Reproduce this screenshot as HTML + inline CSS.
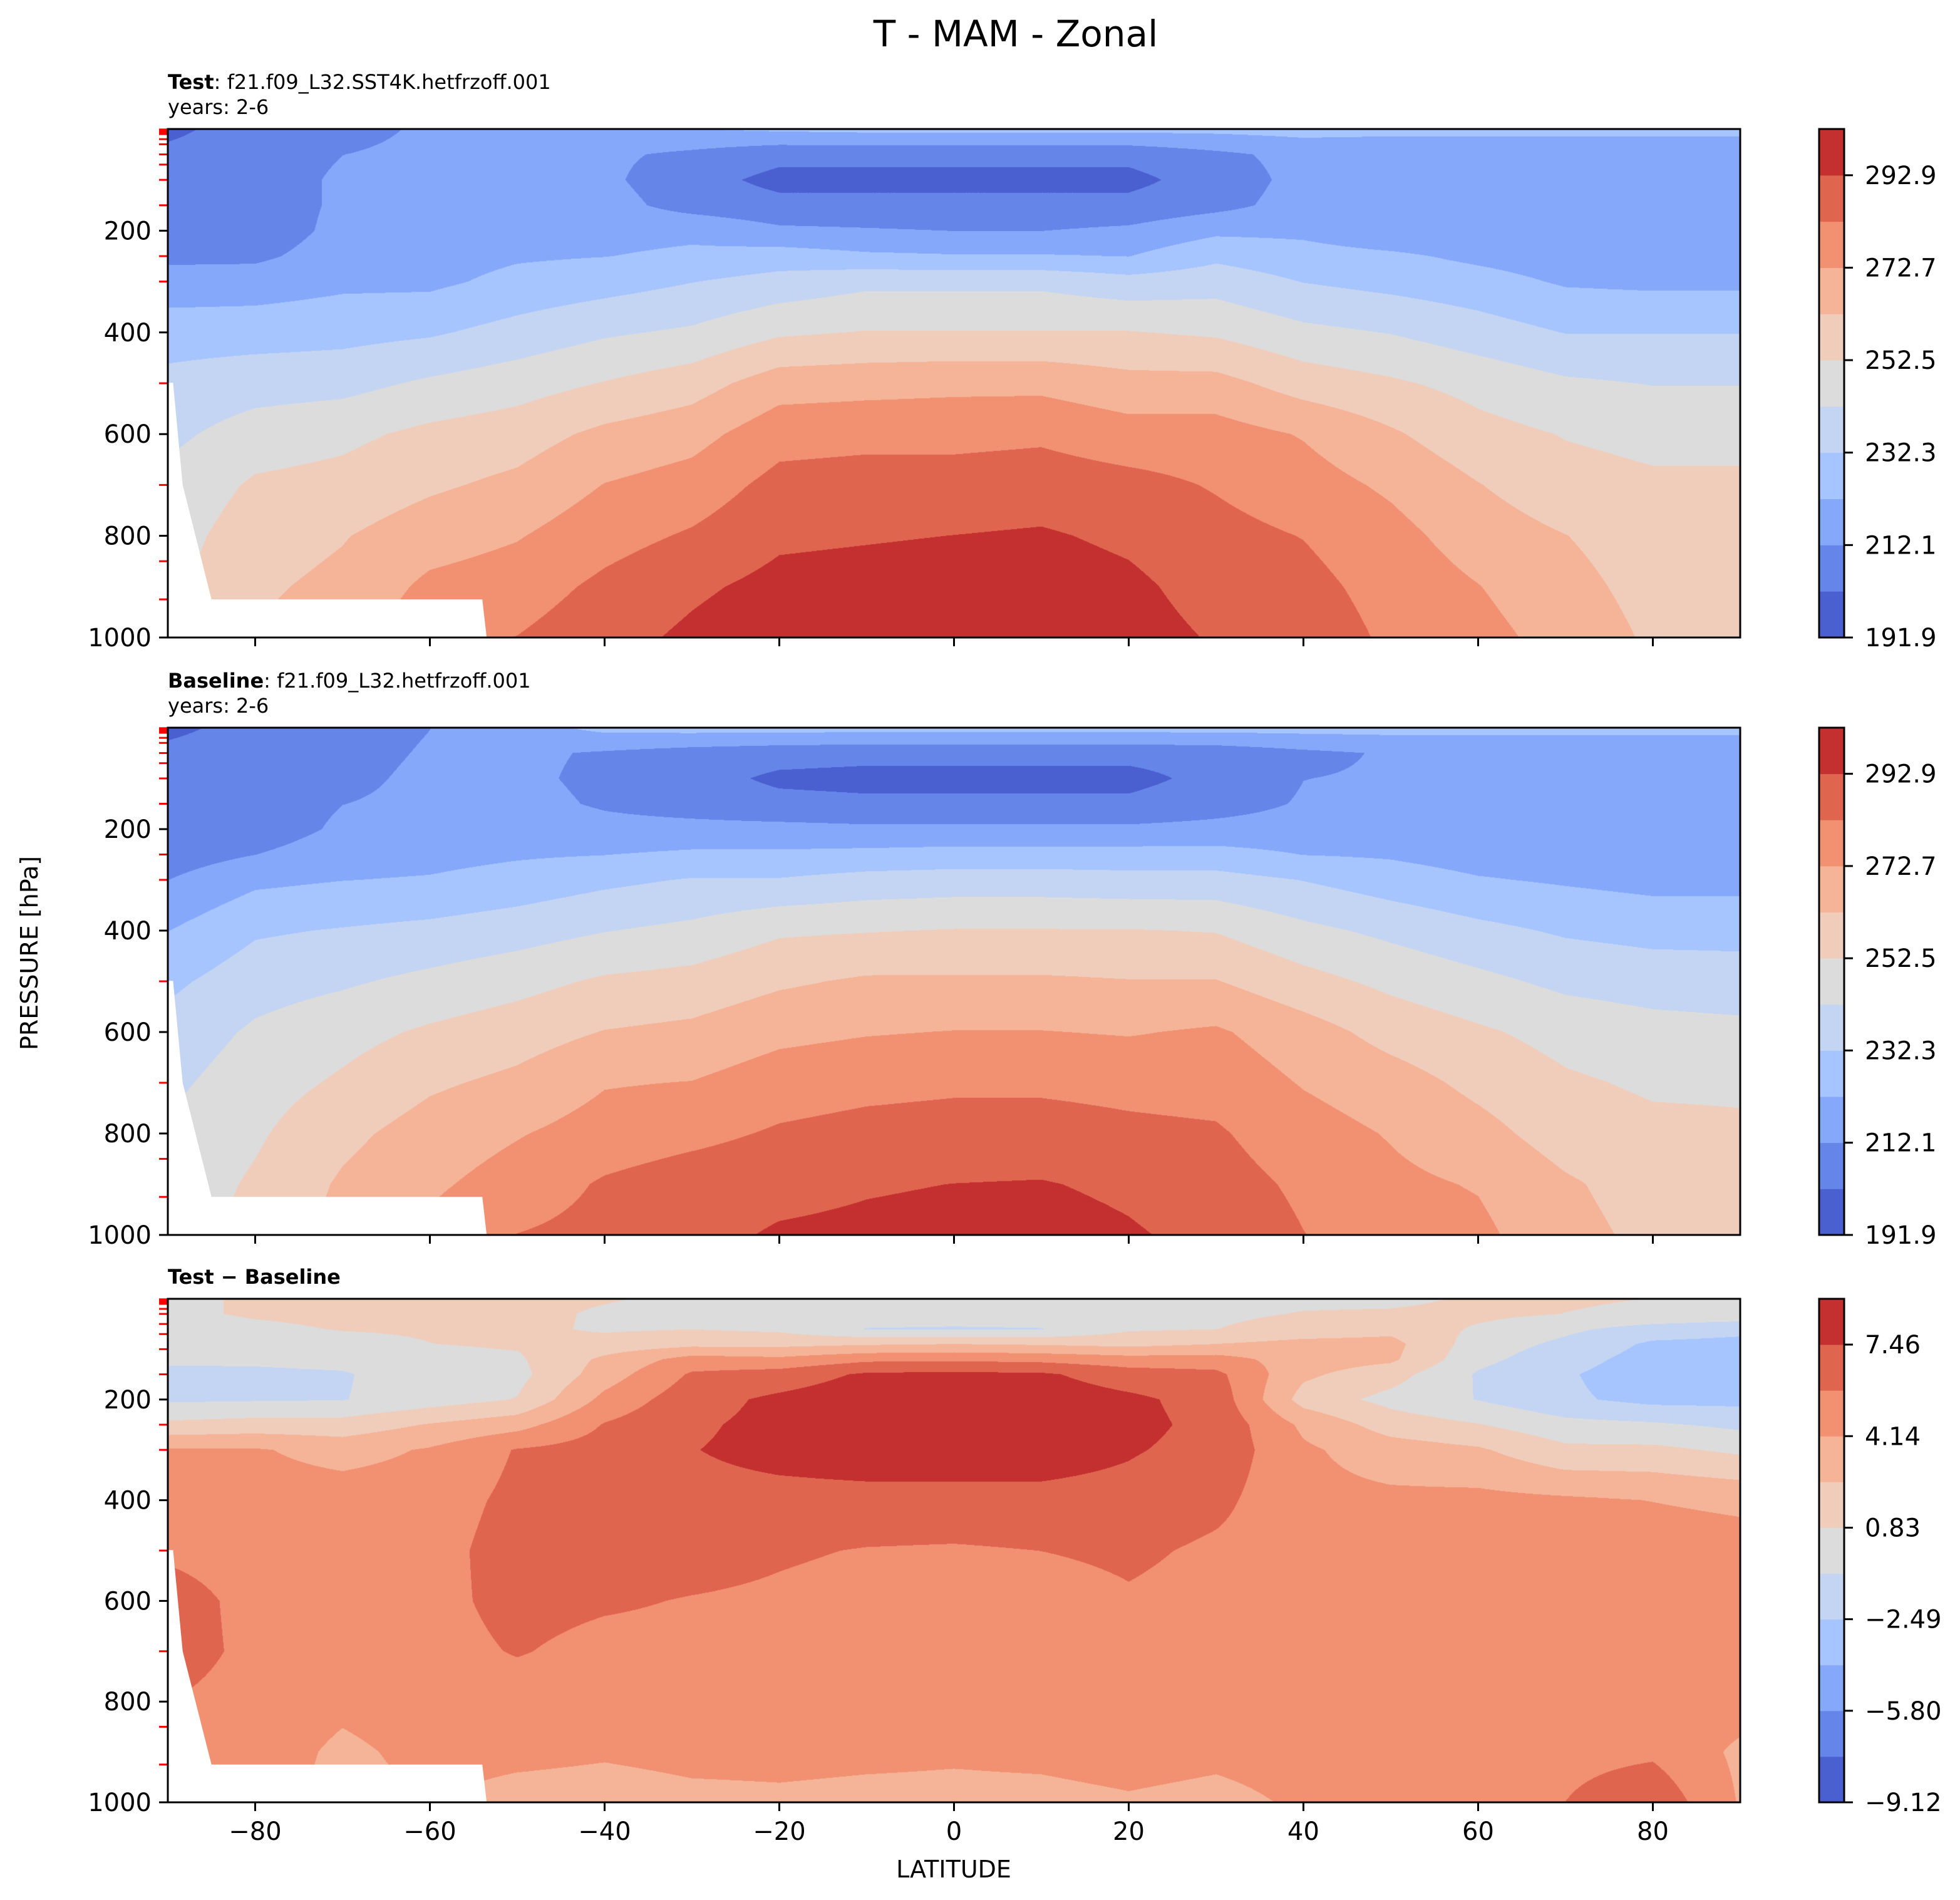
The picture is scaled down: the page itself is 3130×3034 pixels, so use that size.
<!DOCTYPE html>
<html><head><meta charset="utf-8">
<style>
html,body{margin:0;padding:0;background:#fff;}
#root{position:relative;width:3130px;height:3034px;overflow:hidden;background:#fff;font-family:"DejaVu Sans","Liberation Sans",sans-serif;}
canvas{position:absolute;}
svg{position:absolute;left:0;top:0;}
</style></head>
<body>
<div id="root">
<canvas id="c1"></canvas>
<canvas id="c2"></canvas>
<canvas id="c3"></canvas>
<svg id="svg" width="3130" height="3034">
<text x="1622" y="74" font-size="58" text-anchor="middle" fill="#000">T - MAM - Zonal</text>
<text x="268" y="142" font-size="32" fill="#000"><tspan font-weight="bold">Test</tspan>: f21.f09_L32.SST4K.hetfrzoff.001</text>
<text x="268" y="182" font-size="32" fill="#000">years: 2-6</text>
<text x="268" y="1098" font-size="32" fill="#000"><tspan font-weight="bold">Baseline</tspan>: f21.f09_L32.hetfrzoff.001</text>
<text x="268" y="1138" font-size="32" fill="#000">years: 2-6</text>
<text x="268" y="2050" font-size="32" font-weight="bold" fill="#000">Test − Baseline</text>
<text x="1523" y="2998" font-size="38" text-anchor="middle" fill="#000">LATITUDE</text>
<text x="0" y="0" font-size="38" text-anchor="middle" fill="#000" transform="translate(60,1522) rotate(-90)">PRESSURE [hPa]</text>
</svg>
</div>
<script>
// ---------------- data ----------------
const LATS = [-90,-80,-70,-60,-50,-40,-30,-20,-10,0,10,20,30,40,50,60,70,80,90];
const P_T = [0,50,100,150,200,250,300,400,500,600,700,800,900,1000];
const testT = [
[200,204,205,205,206,210,216,228,235,240,245,248,250,252],
[206,206,206,206,206,210,217,228,238,247,254,258,261,263],
[208,212,214,214,215,217,220,229,239,250,256,262,265,268],
[214,215,214,214,215,218,220,231,244,255,261,268,275,280],
[216,215,216,217,219,221,225,236,248,258,265,272,278,283],
[220,214,214,216,219,222,228,241,253,265,273,279,285,289],
[222,210,206,208,220,224,232,244,258,269,277,284,291,295],
[224,205,199,205,214,227,236,251,268,279,286,291,296,300],
[225,205,199,205,213,224,240,253,269,280,287,292,297,301],
[225,205,199,205,212,223,240,253,270,280,287,293,298,302],
[225,205,199,205,212,223,240,253,270,281,288,294,298,302],
[225,205,199,205,214,222,236,253,266,277,286,291,295,297],
[225,210,207,209,220,230,238,251,266,277,282,286,289,292],
[226,215,215,216,220,226,232,245,258,272,277,282.5,286,289],
[226,213,213,213,215,224,229,242,254,264,271,276,279,281],
[226,213,213,213,214,220,226,237,249,256,263,268,273,276],
[226,213,213,213,214,217,221,232,244,252,256,262.8,266,269],
[226,213,213,213,214,216,220,232,242,250,254,257,259,261],
[226,213,213,213,214,216,220,232,242,250,254,256,258,260]
];
const baseT = [
[200,204,205,205,205,207,212,222,230,236,240,244,246,248],
[205,206,206,206,206,212,220,231,238,244,248,251,254,256],
[208,209,210,212,214,218,222,233,241,249,254,260,264,266],
[212,213,214,214,216,219,223,235,245,254,261,267,271,275],
[218,214,214,215,217,221,226,238,249,258,265,272,277,283],
[225,211,210,211,215,222,230,242,254,263,272,277,284,286],
[226,208,206,208,215,224,233,245,256,265,273,280,288,290],
[226,206,200,205,215,224,233,251,261,270,278,284,290,294],
[226,205,199,204,214,225,236,252,264,272,280,286,292,295],
[226,205,199,204,214,226,237,253,264,273,281,287,293,296],
[226,205,199,204,214,226,237,253,264,273,281,287,293.5,297],
[226,205,199,204,214,226,236,253,263,272,280,285,291,294],
[226,206,205,208,215,226,236,252,263,274,279,284,287,290],
[226,210,212,213,216,222,232,245,256,267,272,277,281,283],
[226,213,213,214,216,221,227,240,250,259,267,272,275,278],
[226,213.5,213.5,213.5,215,218,223,235,245,254,260,266,272,275],
[226,213.5,213.5,213.5,214,217,221,231,240,249,254,258,264,266],
[226,213.5,213.5,213.5,214,215,219,229,238,246,251,255,258,260],
[226,213.5,213.5,213.5,214,215,219,229,237,245,251,254,257,259]
];
const P_D = [0,30,60,90,120,150,200,250,300,400,500,600,700,800,900,1000];
const diffT = [
[0.5,0.5,0.2,-0.2,-0.5,-1.3,-1.1,1.2,4.3,5.0,5.5,6.5,6.5,5.8,5.5,5.5],
[1.0,1.0,0.5,0.0,-0.5,-1.2,-1.0,1.5,4.3,4.9,5.1,5.3,5.4,5.2,5.0,5.0],
[1.3,1.2,0.9,0.3,-0.3,-1.0,-0.9,1.5,3.5,5.0,5.2,5.2,5.0,4.5,3.8,3.5],
[1.5,1.3,1.0,0.8,0.3,0.2,0.0,2.6,4.3,5.0,5.2,5.3,5.2,5.0,4.6,4.2],
[1.5,1.5,1.2,1.0,0.6,0.3,0.9,3.5,5.9,6.2,6.5,6.3,5.9,5.0,4.5,3.6],
[1.0,0.5,0.6,1.5,2.8,3.3,4.6,5.9,6.5,6.8,6.6,6.0,5.3,5.0,4.3,3.5],
[0.3,0.4,0.8,2.0,4.8,6.0,6.8,7.2,7.4,7.0,6.5,5.7,5.3,5.0,4.5,3.8],
[0.3,0.2,0.5,2.0,4.5,6.5,7.8,7.9,7.9,7.0,6.0,5.5,5.2,5.0,4.5,3.9],
[0.3,0.0,-0.9,2.3,5.4,7.7,8.5,8.5,8.2,7.0,5.7,5.2,5.0,4.8,4.4,3.8],
[0.3,0.0,-1.0,2.5,5.5,7.8,8.5,8.5,8.2,7.0,5.6,5.2,5.0,4.8,4.3,3.8],
[0.3,0.0,-0.9,2.3,5.3,7.7,8.4,8.5,8.2,7.0,5.8,5.0,4.8,4.7,4.4,3.8],
[0.4,0.3,0.6,2.0,4.8,6.6,7.8,7.9,7.6,6.9,6.1,5.6,5.3,5.0,4.6,4.0],
[0.5,0.5,0.8,2.5,4.8,6.2,6.8,7.0,6.9,6.2,5.5,5.2,5.0,4.8,4.4,3.8],
[0.5,0.9,1.5,3.0,3.3,2.8,1.8,3.8,4.4,4.6,5.0,5.2,5.3,5.0,4.6,4.3],
[0.5,1.0,2.0,3.0,2.8,1.5,0.3,1.7,3.3,4.5,5.0,5.2,5.2,5.0,4.8,4.5],
[1.0,1.2,0.6,0.0,-0.4,-1.0,-0.9,0.9,2.7,4.6,5.0,5.1,5.1,5.0,4.9,4.8],
[1.0,0.8,-0.5,-1.2,-1.8,-2.3,-2.2,-0.3,1.2,4.4,5.0,5.1,5.1,5.1,5.3,5.8],
[0.8,0.5,-1.5,-2.8,-3.2,-3.5,-3.0,-0.6,1.2,4.1,5.0,5.1,5.2,5.2,5.5,7.0],
[0.8,0.3,-2.0,-3.0,-3.3,-3.5,-3.0,-1.2,0.5,3.8,4.8,5.0,5.0,4.9,3.8,4.0]
];
const tempTickLabels = ["191.9","212.1","232.3","252.5","272.7","292.9"];
const diffTickLabels = ["\u22129.12","\u22125.80","\u22122.49","0.83","4.14","7.46"];
const xTickValues = [-80,-60,-40,-20,0,20,40,60,80];
const yTickValues = [200,400,600,800,1000];
const minorLevels = [1,2,3,5,7,10,20,30,50,70,100,150,250,300,500,700,850,925];
const maskLat = [-90,-89.4,-88.3,-85,-54,-53.5,-90];
const maskP = [499,499,700,925,925,1000,1000];
const COLORS = ["#4a5fd0","#6585e8","#85a8fa","#a6c4fe","#c4d5f3","#dcdcdc","#f0cdbb","#f5b497","#f29072","#e0654f","#c3302f"];

// ---------------- layout ----------------
const X0 = 268, X1 = 2779;
const CB0 = 2905, CB1 = 2945;
const panels = [
  {id:"c1", name:"test", top:206, bottom:1018, P:P_T, V:testT, vmin:191.9, step:10.1, ticks:tempTickLabels},
  {id:"c2", name:"baseline", top:1162, bottom:1972, P:P_T, V:baseT, vmin:191.9, step:10.1, ticks:tempTickLabels},
  {id:"c3", name:"difference", top:2074, bottom:2878, P:P_D, V:diffT, vmin:-9.12, step:1.6567, ticks:diffTickLabels}
];
function xOf(lat){ return X0 + (lat + 90) / 180 * (X1 - X0); }
function yOf(p, pan){ return pan.top + p / 1000 * (pan.bottom - pan.top); }
function hex(c){ return [parseInt(c.substr(1,2),16),parseInt(c.substr(3,2),16),parseInt(c.substr(5,2),16)]; }
const RGB = COLORS.map(hex);
const NS = "http://www.w3.org/2000/svg";
const svg = document.getElementById("svg");
function mk(tag, attrs, parent){
  const e = document.createElementNS(NS, tag);
  for (const k in attrs) e.setAttribute(k, attrs[k]);
  (parent || svg).appendChild(e);
  return e;
}
function locate(arr, v){
  if (v <= arr[0]) return [0, 0];
  for (let i = 0; i < arr.length - 1; i++) {
    if (v <= arr[i+1]) return [i, (v - arr[i]) / (arr[i+1] - arr[i])];
  }
  return [arr.length - 2, 1];
}

panels.forEach(function(pan){
  const W = X1 - X0, H = pan.bottom - pan.top;
  const cv = document.getElementById(pan.id);
  cv.width = W; cv.height = H;
  cv.style.left = X0 + "px"; cv.style.top = pan.top + "px";
  const ctx = cv.getContext("2d");
  const img = ctx.createImageData(W, H);
  const colIdx = [], rowIdx = [];
  for (let i = 0; i < W; i++) colIdx.push(locate(LATS, -90 + (i + 0.5) / W * 180));
  for (let j = 0; j < H; j++) rowIdx.push(locate(pan.P, (j + 0.5) / H * 1000));
  for (let j = 0; j < H; j++) {
    const pi = rowIdx[j][0], pf = rowIdx[j][1];
    for (let i = 0; i < W; i++) {
      const li = colIdx[i][0], lf = colIdx[i][1];
      const a = pan.V[li][pi] * (1 - pf) + pan.V[li][pi+1] * pf;
      const b = pan.V[li+1][pi] * (1 - pf) + pan.V[li+1][pi+1] * pf;
      const v = a * (1 - lf) + b * lf;
      let k = Math.floor((v - pan.vmin) / pan.step);
      if (k < 0) k = 0; if (k > 10) k = 10;
      const o = (j * W + i) * 4, c = RGB[k];
      img.data[o] = c[0]; img.data[o+1] = c[1]; img.data[o+2] = c[2]; img.data[o+3] = 255;
    }
  }
  ctx.putImageData(img, 0, 0);

  let pts = maskLat.map(function(l, i){ return xOf(l) + "," + yOf(maskP[i], pan); }).join(" ");
  const mask = mk("polygon", {points: pts, fill: "#fff"});
  
  

  minorLevels.forEach(function(p){
    const t = mk("line", {x1: X0 - 14, x2: X0, y1: yOf(p, pan), y2: yOf(p, pan), stroke: "#ff0000", "stroke-width": 3});
    
    
  });
  yTickValues.forEach(function(p){
    const y = yOf(p, pan);
    const t = mk("line", {x1: X0 - 14, x2: X0, y1: y, y2: y, stroke: "#000", "stroke-width": 3});
    
    
    const lb = mk("text", {x: X0 - 26, y: y + 14, "font-size": 40, "text-anchor": "end", fill: "#000"});
    lb.textContent = String(p);
    
    
  });
  xTickValues.forEach(function(l){
    const x = xOf(l);
    const t = mk("line", {x1: x, x2: x, y1: pan.bottom, y2: pan.bottom + 14, stroke: "#000", "stroke-width": 3});
    
    
    if (pan.name === "difference") {
      const lb = mk("text", {x: x, y: pan.bottom + 60, "font-size": 40, "text-anchor": "middle", fill: "#000"});
      lb.textContent = l < 0 ? "\u2212" + Math.abs(l) : String(l);
      
      
    }
  });
  const fr = mk("rect", {x: X0, y: pan.top, width: X1 - X0, height: H, fill: "none", stroke: "#000", "stroke-width": 3});
  
  

  const cbH = H / 11;
  COLORS.forEach(function(c, k){
    const r = mk("rect", {x: CB0, y: pan.bottom - (k + 1) * cbH, width: CB1 - CB0, height: cbH + 0.5, fill: c});
    
    
  });
  const cf = mk("rect", {x: CB0, y: pan.top, width: CB1 - CB0, height: H, fill: "none", stroke: "#000", "stroke-width": 3});
  
  
  pan.ticks.forEach(function(lab, i){
    const y = pan.bottom - i * 2 * cbH;
    const t = mk("line", {x1: CB1, x2: CB1 + 14, y1: y, y2: y, stroke: "#000", "stroke-width": 3});
    
    
    const lb = mk("text", {x: CB1 + 33, y: y + 14, "font-size": 40, fill: "#000"});
    lb.textContent = lab;
    
    
  });
});
</script>
</body></html>
